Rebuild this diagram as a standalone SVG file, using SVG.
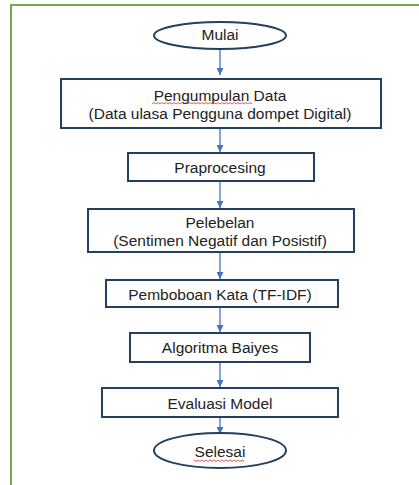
<svg xmlns="http://www.w3.org/2000/svg" width="419" height="485" viewBox="0 0 419 485">
<defs>
<marker id="ah" viewBox="0 0 10 10" refX="10" refY="5" markerWidth="7" markerHeight="7" markerUnits="userSpaceOnUse" orient="auto">
<path d="M0,0 L10,5 L0,10 Z" fill="#4472C4"/>
</marker>
<style>
.box{fill:#fff;stroke:#243F60;stroke-width:2}
.t{font-family:"Liberation Sans",Arial,sans-serif;font-size:15.5px;fill:#222;text-anchor:middle;dominant-baseline:central}
.c{stroke:#4472C4;stroke-width:1.3;fill:none;marker-end:url(#ah)}
.sq{fill:none;stroke:#E03030;stroke-width:0.8}
</style>
</defs>
<rect width="419" height="485" fill="#fff"/>
<path d="M11,485 V5 H419" fill="none" stroke="#70AD47" stroke-width="2"/>
<g id="connectors">
<line class="c" x1="220" y1="49" x2="220" y2="75"/>
<line class="c" x1="220" y1="128" x2="220" y2="152"/>
<line class="c" x1="220" y1="181" x2="220" y2="208"/>
<line class="c" x1="220" y1="252" x2="220" y2="279"/>
<line class="c" x1="220" y1="307" x2="220" y2="332"/>
<line class="c" x1="220" y1="362" x2="220" y2="387"/>
<line class="c" x1="220" y1="417" x2="220" y2="434"/>
</g>
<g id="mulai">
<ellipse class="box" cx="220" cy="35.5" rx="66" ry="13.5"/>
<text class="t" x="220" y="34">Mulai</text>
</g>
<g id="pengumpulan">
<rect class="box" x="61" y="79" width="320" height="49"/>
<text class="t" x="220" y="95">Pengumpulan Data</text>
<text class="t" x="220" y="113">(Data ulasa Pengguna dompet Digital)</text>
<path class="sq" d="M152,104 l2,-1.5 l2,1.5 l2,-1.5 l2,1.5 l2,-1.5 l2,1.5 l2,-1.5 l2,1.5 l2,-1.5 l2,1.5 l2,-1.5 l2,1.5 l2,-1.5 l2,1.5 l2,-1.5 l2,1.5 l2,-1.5 l2,1.5 l2,-1.5 l2,1.5 l2,-1.5 l2,1.5 l2,-1.5 l2,1.5 l2,-1.5 l2,1.5 l2,-1.5 l2,1.5 l2,-1.5 l2,1.5 l2,-1.5 l2,1.5 l2,-1.5 l2,1.5 l2,-1.5 l2,1.5 l2,-1.5 l2,1.5 l2,-1.5 l2,1.5 l2,-1.5 l2,1.5 l2,-1.5 l2,1.5 l2,-1.5 l2,1.5 l2,-1.5 l2,1.5 l2,-1.5 l2,1.5"/>
</g>
<g id="praprocesing">
<rect class="box" x="128" y="153" width="186" height="28"/>
<text class="t" x="220" y="167">Praprocesing</text>
</g>
<g id="pelebelan">
<rect class="box" x="88" y="209" width="266" height="43"/>
<text class="t" x="220" y="222">Pelebelan</text>
<text class="t" x="220" y="240">(Sentimen Negatif dan Posistif)</text>
</g>
<g id="pembobotan">
<rect class="box" x="106" y="280" width="232" height="27"/>
<text class="t" x="220" y="294">Pemboboan Kata (TF-IDF)</text>
</g>
<g id="algoritma">
<rect class="box" x="130" y="333" width="180" height="29"/>
<text class="t" x="220" y="347">Algoritma Baiyes</text>
</g>
<g id="evaluasi">
<rect class="box" x="102" y="388" width="236" height="29"/>
<text class="t" x="220" y="403">Evaluasi Model</text>
</g>
<g id="selesai">
<ellipse class="box" cx="220" cy="450.5" rx="66" ry="17.5"/>
<text class="t" x="220" y="451">Selesai</text>
<path class="sq" d="M194,460 l2,1.5 l2,-1.5 l2,1.5 l2,-1.5 l2,1.5 l2,-1.5 l2,1.5 l2,-1.5 l2,1.5 l2,-1.5 l2,1.5 l2,-1.5 l2,1.5 l2,-1.5 l2,1.5 l2,-1.5 l2,1.5 l2,-1.5 l2,1.5 l2,-1.5 l2,1.5 l2,-1.5 l2,1.5 l2,-1.5 l2,1.5"/>
</g>
</svg>
